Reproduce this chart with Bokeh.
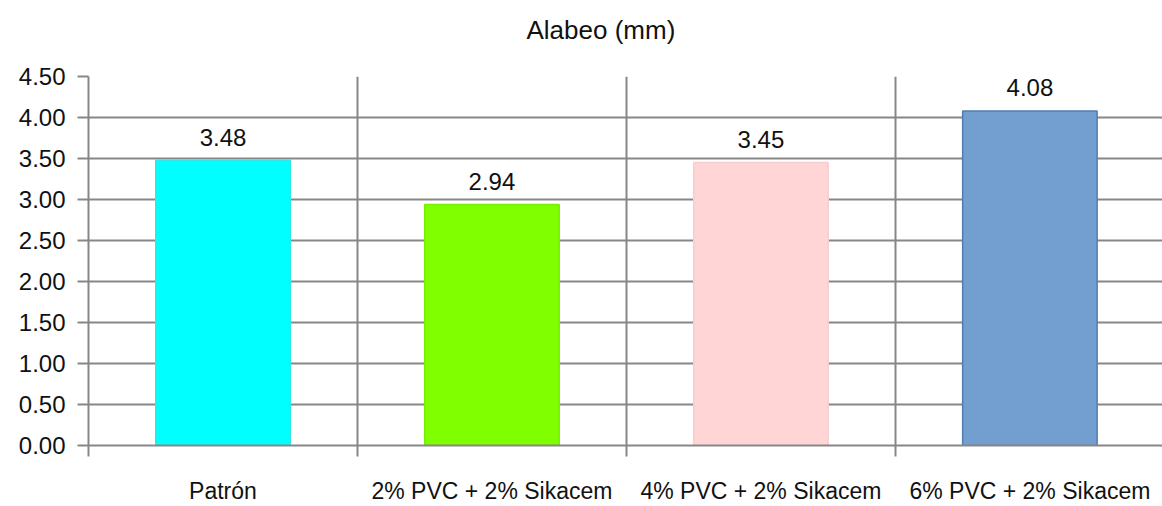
from bokeh.plotting import figure
from bokeh.models import Range1d, FixedTicker, NumeralTickFormatter, ColumnDataSource, LabelSet, Title
from bokeh.core.properties import value
from bokeh.embed import file_html
from bokeh.resources import INLINE

categories = ["Patrón", "2% PVC + 2% Sikacem", "4% PVC + 2% Sikacem", "6% PVC + 2% Sikacem"]
values = [3.48, 2.94, 3.45, 4.08]
value_labels = ["3.48", "2.94", "3.45", "4.08"]
fill_colors = ["#00FFFF", "#80FF00", "#FFD5D6", "#729FCF"]
line_colors = ["#2EE8E8", "#76EE00", "#F7CDCE", "#4F7DB3"]
y_ticks = [0.0, 0.5, 1.0, 1.5, 2.0, 2.5, 3.0, 3.5, 4.0, 4.5]
title_text = "Alabeo (mm)"

FONT = "Liberation Sans"
GRID = "#878787"

n = len(categories)
centers = [i + 0.5 for i in range(n)]
boundaries = list(range(n + 1))

src = ColumnDataSource(dict(x=centers, top=values, label=value_labels,
                            fill=fill_colors, line=line_colors, cat=categories))

p = figure(width=1162, height=506, output_backend="svg", toolbar_location=None,
           x_range=Range1d(0, 3.993), y_range=Range1d(0, 4.5),
           min_border_left=88, min_border_right=0, min_border_top=76, min_border_bottom=60)
p.outline_line_color = None
p.background_fill_color = "white"
p.border_fill_color = "white"

# spacer between title and frame
p.add_layout(Title(text=" ", text_font_size="1px", standoff=13), "above")
p.add_layout(Title(text=title_text, text_font=FONT, text_font_size="26px",
                   text_font_style="normal", text_color="#111111",
                   align="left", vertical_align="top", standoff=28, offset=438), "above")

p.vbar(x="x", top="top", width=0.5, bottom=0, source=src,
       fill_color="fill", line_color="line", line_width=1.5)

labels = LabelSet(x="x", y="top", text="label", source=src, text_align="center",
                  text_baseline="middle", y_offset=23, text_font=value(FONT),
                  text_font_size="24px", text_color="#111111")
p.add_layout(labels)

xt = FixedTicker(ticks=centers, minor_ticks=boundaries)
p.xaxis.ticker = xt
p.xgrid.ticker = xt
p.xaxis.major_label_overrides = {c: cat for c, cat in zip(centers, categories)}
p.xaxis.major_tick_line_color = None
p.xaxis.major_tick_out = 0
p.xaxis.major_tick_in = 0
p.xaxis.minor_tick_out = 11
p.xaxis.minor_tick_in = 0
p.xaxis.minor_tick_line_color = GRID
p.xaxis.minor_tick_line_width = 2
p.xaxis.axis_line_color = GRID
p.xaxis.axis_line_width = 2
p.xaxis.major_label_standoff = 21
p.xaxis.major_label_text_font = FONT
p.xaxis.major_label_text_font_size = "23px"
p.xaxis.major_label_text_color = "#111111"

p.xgrid.grid_line_color = None
p.xgrid.minor_grid_line_color = GRID
p.xgrid.minor_grid_line_width = 2

yt = FixedTicker(ticks=y_ticks)
p.yaxis.ticker = yt
p.ygrid.ticker = yt
p.yaxis.formatter = NumeralTickFormatter(format="0.00")
p.yaxis.major_tick_out = 11
p.yaxis.major_tick_in = 0
p.yaxis.major_tick_line_color = GRID
p.yaxis.major_tick_line_width = 2
p.yaxis.minor_tick_line_color = None
p.yaxis.axis_line_color = GRID
p.yaxis.axis_line_width = 2
p.yaxis.major_label_standoff = 12
p.yaxis.major_label_text_font = FONT
p.yaxis.major_label_text_font_size = "24px"
p.yaxis.major_label_text_color = "#111111"
p.ygrid.grid_line_color = GRID
p.ygrid.grid_line_width = 2

open("out.html", "w").write(file_html(p, INLINE))
